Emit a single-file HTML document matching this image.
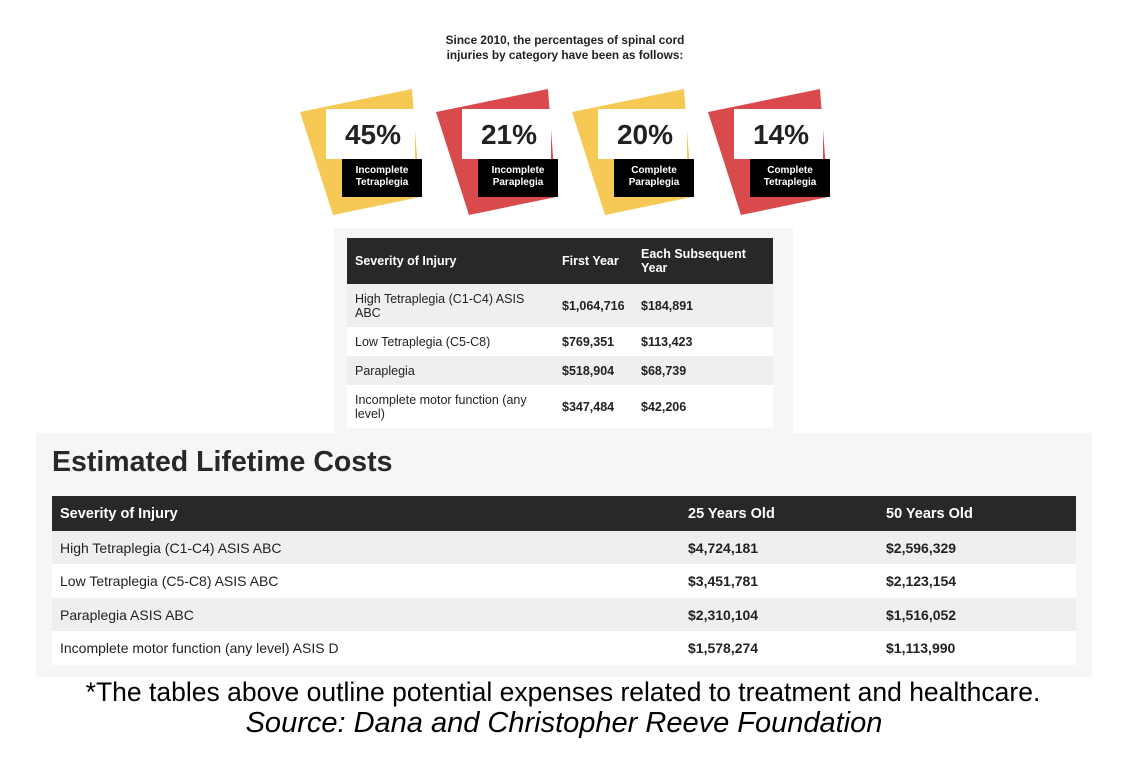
<!DOCTYPE html>
<html><head><meta charset="utf-8"><style>
body{margin:0;width:1126px;height:764px;background:#fff;position:relative;overflow:hidden;font-family:"Liberation Sans",Arial,sans-serif;}
.a{position:absolute;}
.t td{padding:0 0 0 8px;font-size:12.5px;color:#222;font-weight:bold;}
table{border-collapse:collapse;position:absolute;}
.hd td{background:#2a2826;color:#fff;font-weight:bold;}
.g td{background:#efefef;}
.w td{background:#fff;}
.big td{font-size:14px;color:#222;padding-left:8px;}
.big .hd td{color:#fff;font-size:14.5px;}
</style></head><body>
<div class="a" style="left:315px;top:33px;width:500px;text-align:center;font-size:11.8px;font-weight:bold;color:#222;line-height:15px;">Since 2010, the percentages of spinal cord<br>injuries by category have been as follows:</div>
<svg class="a" style="left:0;top:0" width="1126" height="230">
<g font-family="Liberation Sans, sans-serif" text-anchor="middle">
<g transform="translate(0,0)"><polygon points="300,112 412,89 420,197 333,215" fill="#f6c955"/><rect x="326" y="109" width="89" height="50" fill="#fff"/><rect x="342" y="159" width="80" height="38" fill="#000"/><text x="373" y="144" font-size="28" font-weight="bold" fill="#222">45%</text><text x="382" y="173" font-size="10" font-weight="bold" fill="#fff">Incomplete</text><text x="382" y="185" font-size="10" font-weight="bold" fill="#fff">Tetraplegia</text></g>
<g transform="translate(136,0)"><polygon points="300,112 412,89 420,197 333,215" fill="#d94a4c"/><rect x="326" y="109" width="89" height="50" fill="#fff"/><rect x="342" y="159" width="80" height="38" fill="#000"/><text x="373" y="144" font-size="28" font-weight="bold" fill="#222">21%</text><text x="382" y="173" font-size="10" font-weight="bold" fill="#fff">Incomplete</text><text x="382" y="185" font-size="10" font-weight="bold" fill="#fff">Paraplegia</text></g>
<g transform="translate(272,0)"><polygon points="300,112 412,89 420,197 333,215" fill="#f6c955"/><rect x="326" y="109" width="89" height="50" fill="#fff"/><rect x="342" y="159" width="80" height="38" fill="#000"/><text x="373" y="144" font-size="28" font-weight="bold" fill="#222">20%</text><text x="382" y="173" font-size="10" font-weight="bold" fill="#fff">Complete</text><text x="382" y="185" font-size="10" font-weight="bold" fill="#fff">Paraplegia</text></g>
<g transform="translate(408,0)"><polygon points="300,112 412,89 420,197 333,215" fill="#d94a4c"/><rect x="326" y="109" width="89" height="50" fill="#fff"/><rect x="342" y="159" width="80" height="38" fill="#000"/><text x="373" y="144" font-size="28" font-weight="bold" fill="#222">14%</text><text x="382" y="173" font-size="10" font-weight="bold" fill="#fff">Complete</text><text x="382" y="185" font-size="10" font-weight="bold" fill="#fff">Tetraplegia</text></g>
</g></svg>
<div class="a" style="left:334px;top:228px;width:459px;height:205px;background:#f6f6f6"></div>
<table class="t" style="left:347px;top:238px;width:426px;">
<colgroup><col style="width:207px"><col style="width:79px"><col></colgroup>
<tr class="hd" style="height:46px"><td>Severity of Injury</td><td>First Year</td><td>Each Subsequent<br>Year</td></tr>
<tr class="g" style="height:43px"><td style="font-weight:normal">High Tetraplegia (C1-C4) ASIS<br>ABC</td><td>$1,064,716</td><td>$184,891</td></tr>
<tr class="w" style="height:29px"><td style="font-weight:normal">Low Tetraplegia (C5-C8)</td><td>$769,351</td><td>$113,423</td></tr>
<tr class="g" style="height:29px"><td style="font-weight:normal">Paraplegia</td><td>$518,904</td><td>$68,739</td></tr>
<tr class="w" style="height:43px"><td style="font-weight:normal">Incomplete motor function (any<br>level)</td><td>$347,484</td><td>$42,206</td></tr>
</table>
<div class="a" style="left:36px;top:433px;width:1056px;height:244px;background:#f6f6f6"></div>
<div class="a" style="left:52px;top:446px;font-size:28.5px;font-weight:bold;color:#2a2826;">Estimated Lifetime Costs</div>
<table class="big" style="left:52px;top:496px;width:1024px;">
<colgroup><col style="width:628px"><col style="width:198px"><col></colgroup>
<tr class="hd" style="height:35px"><td>Severity of Injury</td><td>25 Years Old</td><td>50 Years Old</td></tr>
<tr class="g" style="height:33px"><td>High Tetraplegia (C1-C4) ASIS ABC</td><td style="font-weight:bold">$4,724,181</td><td style="font-weight:bold">$2,596,329</td></tr>
<tr class="w" style="height:34px"><td>Low Tetraplegia (C5-C8) ASIS ABC</td><td style="font-weight:bold">$3,451,781</td><td style="font-weight:bold">$2,123,154</td></tr>
<tr class="g" style="height:33px"><td>Paraplegia ASIS ABC</td><td style="font-weight:bold">$2,310,104</td><td style="font-weight:bold">$1,516,052</td></tr>
<tr class="w" style="height:34px"><td>Incomplete motor function (any level) ASIS D</td><td style="font-weight:bold">$1,578,274</td><td style="font-weight:bold">$1,113,990</td></tr>
</table>
<div class="a" style="left:0;top:677px;width:1126px;text-align:center;font-size:26.5px;color:#000;">*The tables above outline potential expenses related to treatment and healthcare.</div>
<div class="a" style="left:0;top:707px;width:1128px;text-align:center;font-size:29px;font-style:italic;color:#000;">Source: Dana and Christopher Reeve Foundation</div>
</body></html>
